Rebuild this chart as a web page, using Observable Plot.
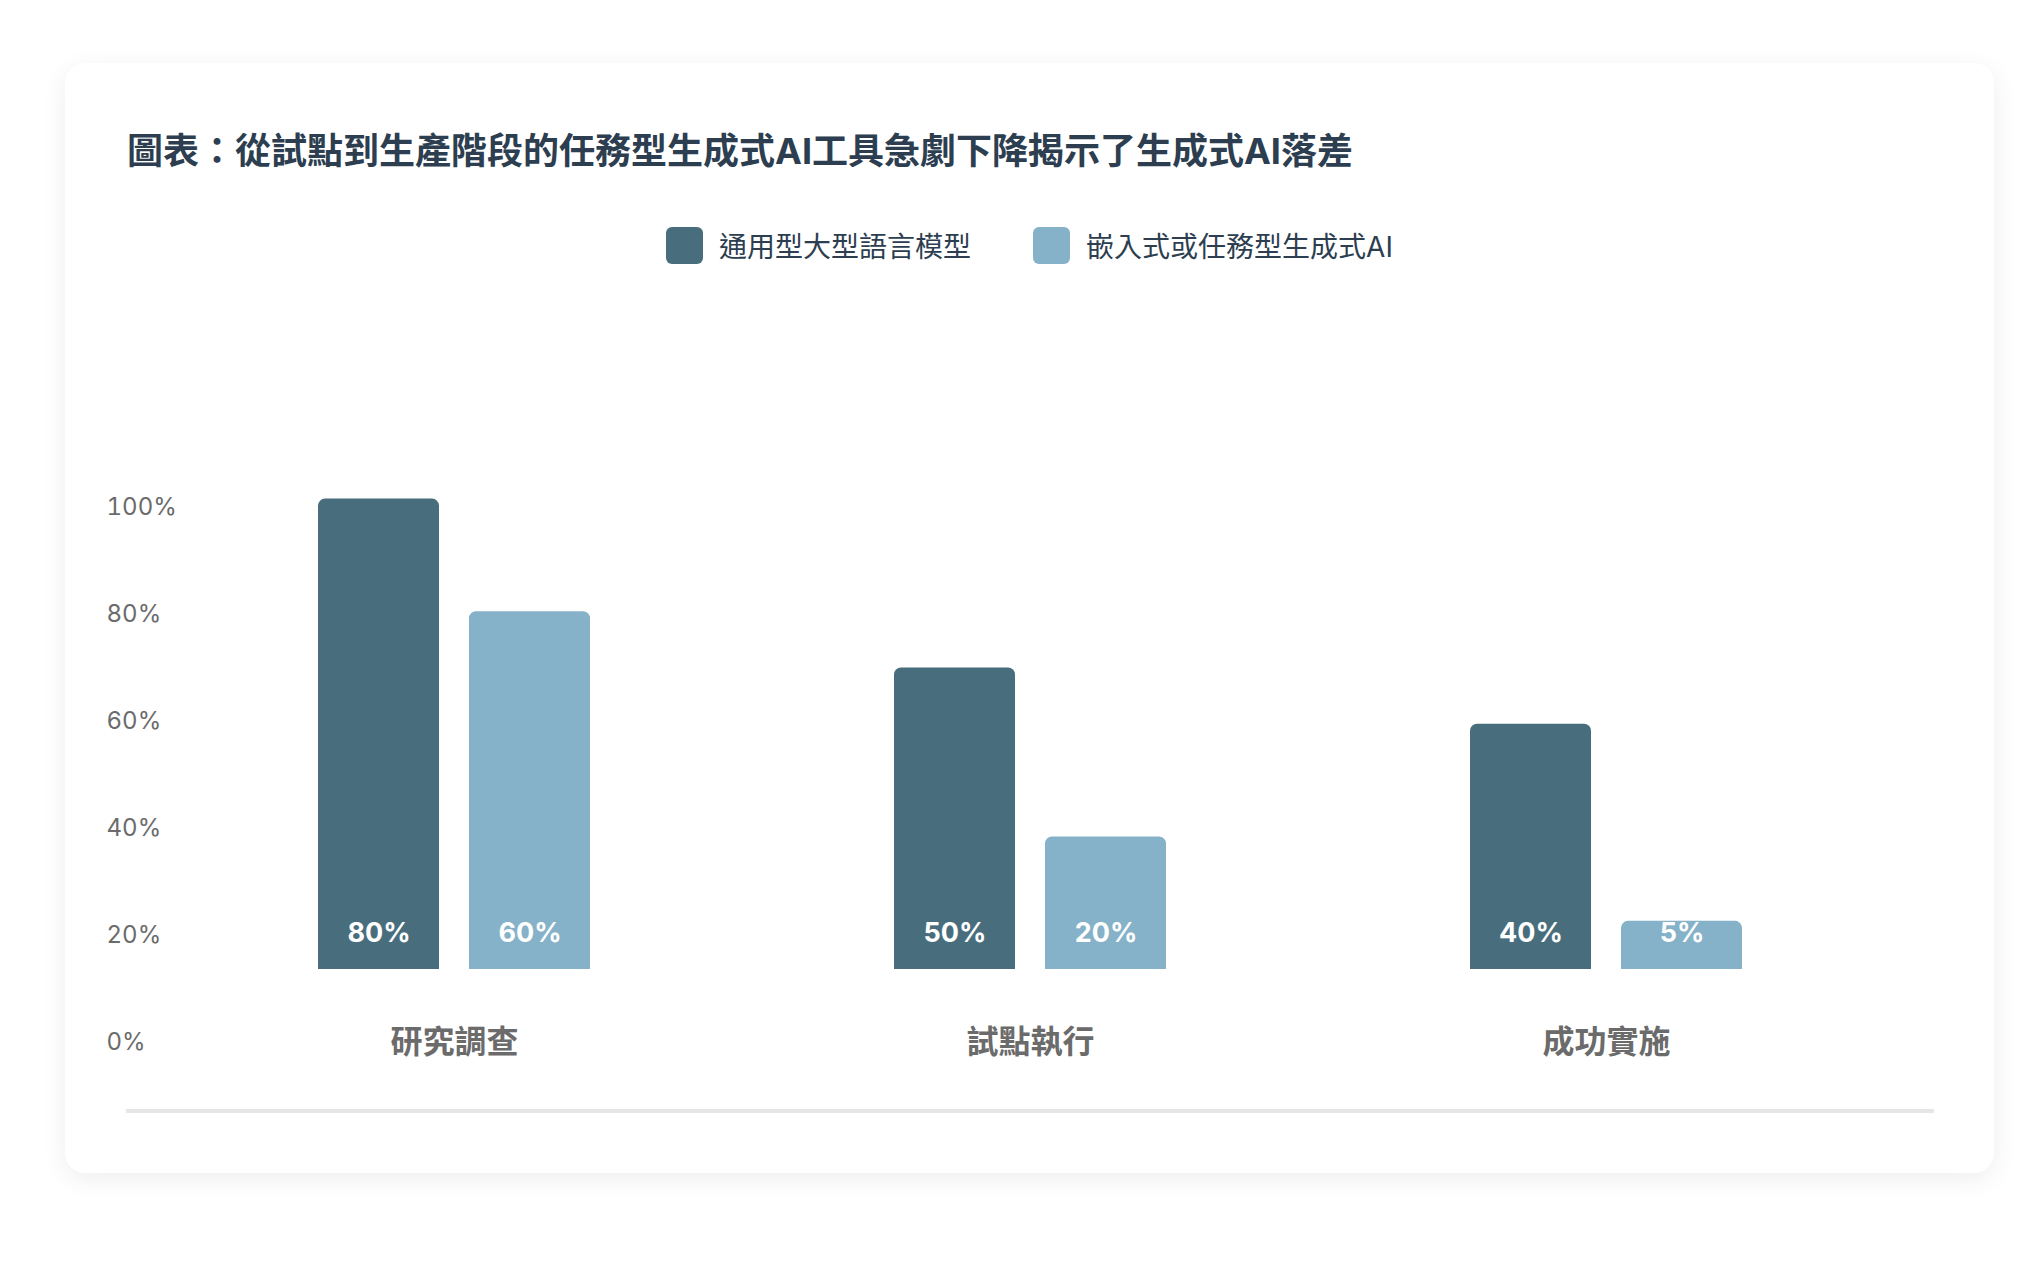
<!DOCTYPE html>
<html><head><meta charset="utf-8">
<script src="https://cdn.jsdelivr.net/npm/d3@7"></script>
<script src="https://cdn.jsdelivr.net/npm/@observablehq/plot@0.6"></script>
<style>
html,body{margin:0;padding:0;background:#fff;width:2044px;height:1280px;overflow:hidden;font-family:"Inter","Noto Sans CJK TC",sans-serif;}
#card{position:absolute;left:65px;top:63px;width:1929px;height:1110px;background:#fff;border-radius:20px;box-shadow:0 6px 26px rgba(0,0,0,0.07);}
#title{position:absolute;left:127px;top:128px;font-size:36px;font-weight:700;color:#2c3e50;line-height:46px;white-space:nowrap;font-family:"Inter","Noto Sans CJK TC",sans-serif;}
#legend{position:absolute;left:65px;width:1929px;top:226px;height:38px;display:flex;justify-content:center;align-items:center;gap:62px;}
.item{display:flex;align-items:center;gap:16px;font-size:28px;color:#2c3e50;font-family:"Inter","Noto Sans CJK TC",sans-serif;}
.sw{width:37px;height:37px;border-radius:6px;}
.chart{position:absolute;left:0;top:380px;}
#baseline{position:absolute;left:126px;width:1808px;top:1109px;height:4px;background:#e4e6e8;}
</style></head>
<body>
<div id="card"></div>
<div id="title">圖表：從試點到生產階段的任務型生成式AI工具急劇下降揭示了生成式AI落差</div>
<div id="legend"></div>
<div id="axis" class="chart"></div>
<div id="bars" class="chart"></div>
<div id="baseline"></div>
<script>
const categories = ["研究調查", "試點執行", "成功實施"];
const seriesNames = ["通用型大型語言模型", "嵌入式或任務型生成式AI"];
const generalLLM = [80, 50, 40];
const taskGenAI = [60, 20, 5];
const yTicks = [0, 20, 40, 60, 80, 100];
const palette = ["#486e7e", "#85b2c8"];

const rows = categories.flatMap((c, i) => [
  {category: c, series: seriesNames[0], value: generalLLM[i]},
  {category: c, series: seriesNames[1], value: taskGenAI[i]}
]);

const font = '"Inter","Noto Sans CJK TC",sans-serif';

// legend
const lg = document.getElementById("legend");
seriesNames.forEach((s, i) => {
  const it = document.createElement("div"); it.className = "item";
  const sw = document.createElement("div"); sw.className = "sw"; sw.style.background = palette[i];
  const tx = document.createElement("span"); tx.textContent = s;
  it.appendChild(sw); it.appendChild(tx); lg.appendChild(it);
});

// y axis labels
const axis = Plot.plot({
  width: 2044, height: 720,
  marginLeft: 106, marginRight: 0, marginTop: 127, marginBottom: 58,
  style: {fontFamily: font, background: "transparent"},
  y: {domain: [0, 100], label: null},
  marks: [
    Plot.axisY(yTicks, {anchor: "left", tickSize: 0, tickPadding: 0, textAnchor: "start",
      tickFormat: d => d + "%", fontSize: 24, color: "#6b6b6b", label: null})
  ]
});
document.getElementById("axis").appendChild(axis);

// bars
const bars = Plot.plot({
  width: 2044, height: 720,
  marginLeft: 166, marginRight: 150, marginTop: 6, marginBottom: 151,
  style: {fontFamily: font, background: "transparent", overflow: "visible"},
  fx: {domain: categories, padding: 0, axis: null},
  x: {domain: seriesNames, paddingInner: 0.2, paddingOuter: 1, axis: null},
  y: {domain: [0, 100], axis: null},
  color: {domain: seriesNames, range: palette},
  marks: [
    Plot.barY(rows, {fx: "category", x: "series", y: "value", fill: "series", insetBottom: -20, ry1: 7}),
    Plot.text(rows, {fx: "category", x: "series", text: d => d.value + "%", frameAnchor: "bottom",
      dy: -7.5, fill: "white", fontWeight: 700, fontSize: 27}),
    Plot.text(categories, {fx: d => d, text: d => d, frameAnchor: "bottom", dy: 103,
      fontSize: 32, fontWeight: 700, fill: "#6b6b6b"})
  ]
});
document.getElementById("bars").appendChild(bars);
</script>
</body></html>
